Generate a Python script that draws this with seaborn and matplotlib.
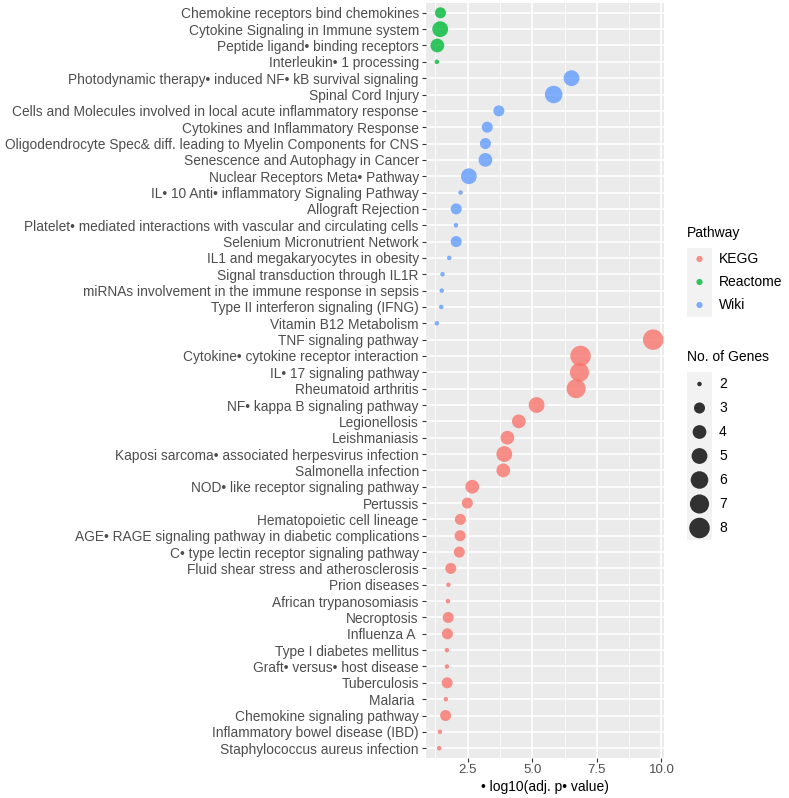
import numpy as np
import pandas as pd
import matplotlib
matplotlib.use("Agg")
import matplotlib.pyplot as plt
import seaborn as sns

# enriched pathways, top to bottom as in the figure
terms = [
    "Chemokine receptors bind chemokines",
    "Cytokine Signaling in Immune system",
    "Peptide ligand• binding receptors",
    "Interleukin• 1 processing",
    "Photodynamic therapy• induced NF• kB survival signaling",
    "Spinal Cord Injury",
    "Cells and Molecules involved in local acute inflammatory response",
    "Cytokines and Inflammatory Response",
    "Oligodendrocyte Spec& diff. leading to Myelin Components for CNS",
    "Senescence and Autophagy in Cancer",
    "Nuclear Receptors Meta• Pathway",
    "IL• 10 Anti• inflammatory Signaling Pathway",
    "Allograft Rejection",
    "Platelet• mediated interactions with vascular and circulating cells",
    "Selenium Micronutrient Network",
    "IL1 and megakaryocytes in obesity",
    "Signal transduction through IL1R",
    "miRNAs involvement in the immune response in sepsis",
    "Type II interferon signaling (IFNG)",
    "Vitamin B12 Metabolism",
    "TNF signaling pathway",
    "Cytokine• cytokine receptor interaction",
    "IL• 17 signaling pathway",
    "Rheumatoid arthritis",
    "NF• kappa B signaling pathway",
    "Legionellosis",
    "Leishmaniasis",
    "Kaposi sarcoma• associated herpesvirus infection",
    "Salmonella infection",
    "NOD• like receptor signaling pathway",
    "Pertussis",
    "Hematopoietic cell lineage",
    "AGE• RAGE signaling pathway in diabetic complications",
    "C• type lectin receptor signaling pathway",
    "Fluid shear stress and atherosclerosis",
    "Prion diseases",
    "African trypanosomiasis",
    "Necroptosis",
    "Influenza A ",
    "Type I diabetes mellitus",
    "Graft• versus• host disease",
    "Tuberculosis",
    "Malaria ",
    "Chemokine signaling pathway",
    "Inflammatory bowel disease (IBD)",
    "Staphylococcus aureus infection",
]
pathway = ["Reactome"] * 4 + ["Wiki"] * 16 + ["KEGG"] * 26
logp = [1.45, 1.44, 1.33, 1.31,
        6.52, 5.83, 3.71, 3.26, 3.19, 3.19, 2.55, 2.23, 2.06, 2.05, 2.06,
        1.79, 1.53, 1.50, 1.48, 1.31,
        9.68, 6.87, 6.83, 6.70, 5.17, 4.48, 4.04, 3.92, 3.88, 2.68, 2.49,
        2.22, 2.21, 2.18, 1.85, 1.76, 1.74, 1.75, 1.72, 1.70, 1.70, 1.71,
        1.66, 1.65, 1.43, 1.40]
genes = [3, 5, 4, 2,
         5, 6, 3, 3, 3, 4, 5, 2, 3, 2, 3, 2, 2, 2, 2, 2,
         8, 8, 7, 7, 5, 4, 4, 5, 4, 4, 3, 3, 3, 3, 3, 2, 2, 3, 3, 2, 2, 3,
         2, 3, 2, 2]

path_levels = ["KEGG", "Reactome", "Wiki"]
gene_levels = [2, 3, 4, 5, 6, 7, 8]

df = pd.DataFrame({"term": terms, "pathway": pathway, "logp": logp, "genes": genes})

DPI = 100
palette = {"KEGG": "#F8766D", "Reactome": "#00BA38", "Wiki": "#619CFF"}


def dot_area(v):
    # ggplot-like area scale (size 1..6) -> marker area in pt^2
    size = 1 + 5 * np.sqrt((v - 2) / 6)
    d_px = 1.3 + 3.2 * size
    return (d_px * 72 / DPI) ** 2


sizes = {v: dot_area(v) for v in gene_levels}

plt.rcParams["font.family"] = ["Liberation Sans", "DejaVu Sans"]
text_col = "#4D4D4D"

W, H = 789, 798
fig = plt.figure(figsize=(W / DPI, H / DPI), dpi=DPI)
ax = fig.add_axes([426 / W, 1 - 758 / H, 238 / W, 755 / H])
ax.set_facecolor("#EBEBEB")

sns.scatterplot(data=df, x="logp", y="term", hue="pathway", size="genes",
                palette=palette, sizes=sizes, alpha=0.8, linewidth=0,
                legend=False, ax=ax, zorder=3)

n = len(terms)
lo, hi = min(logp), max(logp)
pad = 0.05 * (hi - lo)
ax.set_xlim(lo - pad, hi + pad)
ax.set_ylim(n - 1 + 0.6, -0.6)

ax.set_xticks([2.5, 5.0, 7.5, 10.0])
ax.set_xticklabels(["2.5", "5.0", "7.5", "10.0"])
ax.set_xticks([1.25, 3.75, 6.25, 8.75], minor=True)
ax.grid(which="major", color="white", lw=1.2)
ax.grid(which="minor", axis="x", color="white", lw=0.6)
ax.set_axisbelow(True)
for s in ax.spines.values():
    s.set_visible(False)
ax.tick_params(which="minor", length=0)
ax.tick_params(axis="y", which="major", length=3, width=0.8, color="#333333",
               pad=2.2, labelsize=9.95, labelcolor=text_col)
ax.tick_params(axis="x", which="major", length=3, width=0.8, color="#333333",
               pad=1.5, labelsize=9.5, labelcolor=text_col)
ax.set_xlabel("• log10(adj. p• value)", fontsize=10, color="black", labelpad=3)
ax.set_ylabel("")

# legend: Pathway colours
cax = fig.add_axes([687 / W, 1 - 316.5 / H, 25 / W, 69 / H])
cax.set_facecolor("#F2F2F2")
pos = np.arange(len(path_levels))
cax.scatter(np.zeros(len(pos)), pos, s=(6.2 * 72 / DPI) ** 2,
            c=[palette[p] for p in path_levels], alpha=0.8, linewidths=0)
cax.set_xlim(-0.5, 0.5)
cax.set_ylim(len(pos) - 0.5, -0.5)
for i, lab in enumerate(path_levels):
    cax.text(1.28, i, lab, transform=cax.get_yaxis_transform(),
             va="center", ha="left", fontsize=10, color="black")
cax.set_xticks([])
cax.set_yticks([])
for s in cax.spines.values():
    s.set_visible(False)
fig.text(687 / W, 1 - 233 / H, "Pathway", fontsize=10, va="center", ha="left")

# legend: gene counts
sax = fig.add_axes([687 / W, 1 - 540 / H, 25 / W, 168 / H])
sax.set_facecolor("#F2F2F2")
gpos = np.arange(len(gene_levels))
sax.scatter(np.zeros(len(gpos)), gpos, s=[sizes[v] for v in gene_levels],
            c="black", alpha=0.8, linewidths=0)
sax.set_xlim(-0.5, 0.5)
sax.set_ylim(len(gpos) - 0.5, -0.5)
for i, v in enumerate(gene_levels):
    sax.text(1.28, i, str(v), transform=sax.get_yaxis_transform(),
             va="center", ha="left", fontsize=10, color="black")
sax.set_xticks([])
sax.set_yticks([])
for s in sax.spines.values():
    s.set_visible(False)
fig.text(687 / W, 1 - 357 / H, "No. of Genes", fontsize=10, va="center", ha="left")

fig.savefig("out.png", dpi=DPI)
